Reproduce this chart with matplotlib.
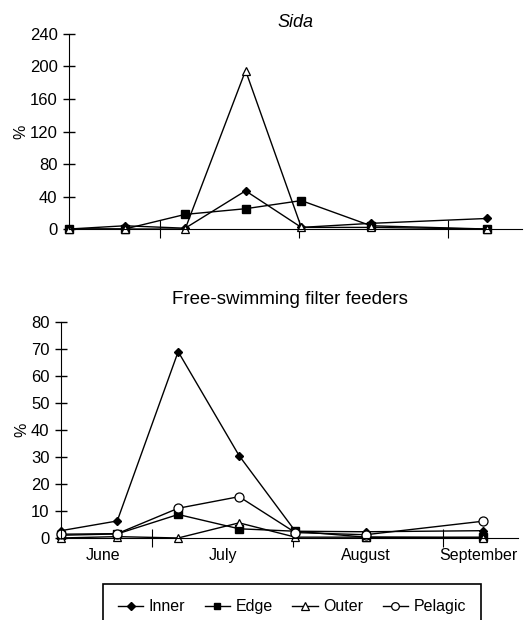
import matplotlib.pyplot as plt

plt.rcParams['font.family'] = ['Liberation Sans', 'DejaVu Sans']

# sampling positions (days from first sample) and month edges
sample_day = [0, 12, 25, 38, 50, 65, 90]
month_edge = [19.5, 49.5, 81.5]
month_mid = [9, 34.5, 65, 89]
months = ['June', 'July', 'August', 'September']

# Sida (%)
sida_inner = [0, 4, 1, 47, 2, 7, 13]
sida_edge = [0, 0, 18, 25, 35, 4, 0]
sida_outer = [0, 0, 0, 195, 2, 2, 0]

# Free-swimming filter feeders (%)
ff_inner = [2.7, 6.3, 69, 30.5, 2.5, 2.3, 2.7]
ff_edge = [1.0, 1.5, 8.7, 3.4, 2.5, 0.3, 0.3]
ff_outer = [0, 0.5, 0, 5.6, 0.3, 0.3, 0]
ff_pelagic = [1.4, 1.6, 11, 15.3, 2.0, 1.2, 6.2]

styles = {
    'Inner': dict(marker='D', ms=4.5, mfc='black', mec='black'),
    'Edge': dict(marker='s', ms=5.5, mfc='black', mec='black'),
    'Outer': dict(marker='^', ms=6, mfc='white', mec='black', mew=0.9),
    'Pelagic': dict(marker='o', ms=6.5, mfc='white', mec='black', mew=0.9),
}

fig = plt.figure(figsize=(5.28, 6.2), dpi=100)
ax1 = fig.add_axes([0.1307, 0.6306, 0.858, 0.3146])
ax2 = fig.add_axes([0.1155, 0.1323, 0.8655, 0.3484])


def style_axis(ax, ymax, ystep, labels):
    ax.set_xlim(0, 97.5)
    ax.set_ylim(0, ymax)
    ax.set_yticks(range(0, ymax + 1, ystep))
    ax.spines['top'].set_visible(False)
    ax.spines['right'].set_visible(False)
    ax.tick_params(axis='y', direction='inout', length=8.5, width=1, labelsize=12, pad=4)
    ax.set_xticks(month_edge)
    ax.set_xticklabels([])
    ax.tick_params(axis='x', which='major', direction='inout', length=13, width=0.8)
    if labels:
        ax.set_xticks(month_mid, minor=True)
        ax.set_xticklabels(months, minor=True)
        ax.tick_params(axis='x', which='minor', length=0, labelsize=11.5, pad=7)
    ax.set_ylabel('%', fontsize=11.5, labelpad=1)


for name, vals in [('Inner', sida_inner), ('Edge', sida_edge), ('Outer', sida_outer)]:
    ax1.plot(sample_day, vals, color='black', lw=1, clip_on=False, label=name, **styles[name])
style_axis(ax1, 240, 40, False)
ax1.set_title('Sida', fontsize=13, style='italic', pad=5)

handles = []
for name, vals in [('Inner', ff_inner), ('Edge', ff_edge), ('Outer', ff_outer), ('Pelagic', ff_pelagic)]:
    h, = ax2.plot(sample_day, vals, color='black', lw=1, clip_on=False, label=name, **styles[name])
    handles.append(h)
style_axis(ax2, 80, 10, True)
ax2.set_title('Free-swimming filter feeders', fontsize=13.5, pad=13)

leg = fig.legend(handles=handles, loc='upper center', bbox_to_anchor=(0.553, 1 - 584 / 620), ncol=4,
                 fontsize=11.5, frameon=True, fancybox=False, framealpha=1,
                 edgecolor='black', handlelength=1.6, handletextpad=0.35,
                 columnspacing=1.2, borderpad=0.95, borderaxespad=0, markerscale=0.85)
leg.get_frame().set_linewidth(1.2)

fig.savefig('out.png', dpi=100)
